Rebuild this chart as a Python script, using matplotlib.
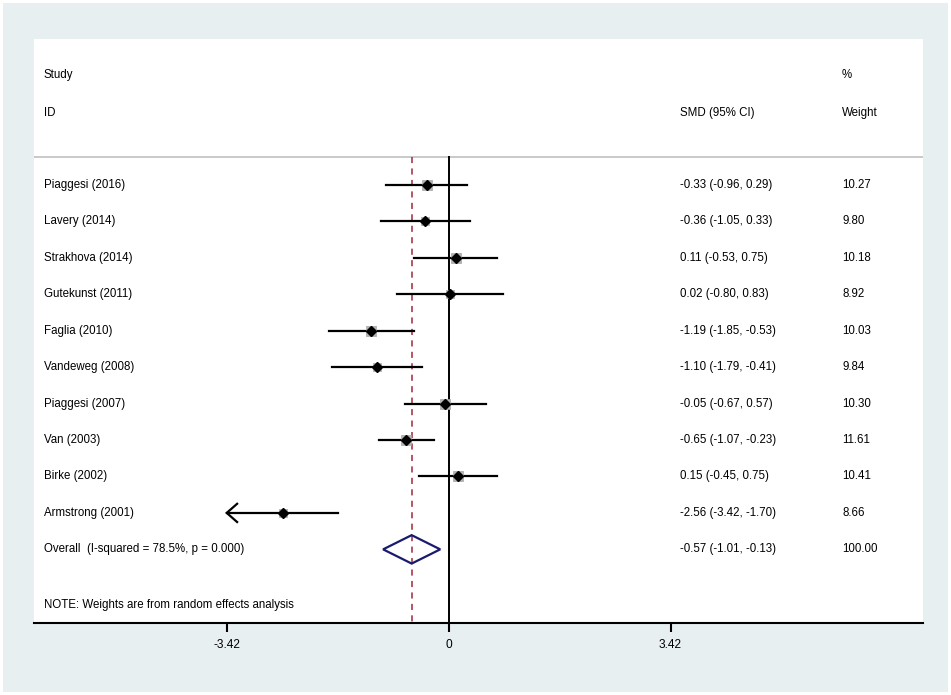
import matplotlib
matplotlib.use("Agg")
import matplotlib.pyplot as plt
from matplotlib.patches import Rectangle, Polygon

plt.rcParams["font.family"] = ["Liberation Sans", "DejaVu Sans"]

# study data (SMD, 95% CI, weight %)
studies = ["Piaggesi (2016)", "Lavery (2014)", "Strakhova (2014)", "Gutekunst (2011)",
           "Faglia (2010)", "Vandeweg (2008)", "Piaggesi (2007)", "Van (2003)",
           "Birke (2002)", "Armstrong (2001)"]
smd = [-0.33, -0.36, 0.11, 0.02, -1.19, -1.10, -0.05, -0.65, 0.15, -2.56]
ci_low = [-0.96, -1.05, -0.53, -0.80, -1.85, -1.79, -0.67, -1.07, -0.45, -3.42]
ci_high = [0.29, 0.33, 0.75, 0.83, -0.53, -0.41, 0.57, -0.23, 0.75, -1.70]
weights = [10.27, 9.80, 10.18, 8.92, 10.03, 9.84, 10.30, 11.61, 10.41, 8.66]

overall_label = "Overall  (I-squared = 78.5%, p = 0.000)"
overall_smd, overall_low, overall_high, overall_weight = -0.57, -1.01, -0.13, 100.00
xticks = [-3.42, 0, 3.42]
x_clip = -3.42

W, H = 951, 695
FS = 8.3
fig = plt.figure(figsize=(W / 100, H / 100), dpi=100, facecolor="white")
fig.add_artist(Rectangle((3 / W, 3 / H), 945 / W, 689 / H, transform=fig.transFigure,
                         facecolor="#e8eff1", edgecolor="none", zorder=-10))

ax = fig.add_axes([34 / W, 1 - 623 / H, 889 / W, 584 / H])
ax.set_facecolor("white")
ax.set_xlim(-6.39, 7.31)
ax.set_ylim(12.02, -4.0)
for s in ["top", "left", "right"]:
    ax.spines[s].set_visible(False)
ax.spines["bottom"].set_linewidth(1.5)
ax.set_yticks([])
ax.set_xticks(xticks)
ax.set_xticklabels(["-3.42", "0", "3.42"], fontsize=8.6)
ax.tick_params(axis="x", length=6.5, width=1.5, pad=5)

top_line = -0.76
ax.axhline(top_line, color="#c0c0c0", lw=1.2)
ax.plot([0, 0], [top_line, 12.02], color="black", lw=1.4, zorder=3)
ax.plot([overall_smd, overall_smd], [top_line, 12.02], color="#a0283a", lw=1.1,
        dashes=(4, 3.5), zorder=3)

tr = ax.get_yaxis_transform()
for i in range(len(studies)):
    lo = max(ci_low[i], x_clip)
    ax.plot([lo, ci_high[i]], [i, i], color="black", lw=1.6, zorder=4)
    if ci_low[i] <= x_clip:
        ax.plot([lo + 0.16, lo, lo + 0.16], [i - 0.25, i, i + 0.25],
                color="black", lw=1.6, zorder=4, solid_joinstyle="miter")
    ax.scatter([smd[i]], [i], s=weights[i] * 4.2, marker="s", color="#b3b3b3",
               edgecolor="#a5a5a5", linewidth=0.5, zorder=5)
    ax.plot([smd[i]], [i], marker="D", ms=5.2, color="black", zorder=6)

    ax.text(0.0112, i, studies[i], transform=tr, fontsize=FS, va="center")
    ax.text(0.727, i, f"{smd[i]:.2f} ({ci_low[i]:.2f}, {ci_high[i]:.2f})",
            transform=tr, fontsize=FS, va="center")
    ax.text(0.909, i, f"{weights[i]:.2f}", transform=tr, fontsize=FS, va="center")

r = len(studies)
ax.add_patch(Polygon([(overall_low, r), (overall_smd, r - 0.39), (overall_high, r),
                      (overall_smd, r + 0.39)], closed=True, fill=False,
                     edgecolor="#1a1a6e", lw=1.6, zorder=6))
ax.text(0.0112, r, overall_label, transform=tr, fontsize=FS, va="center")
ax.text(0.727, r, f"{overall_smd:.2f} ({overall_low:.2f}, {overall_high:.2f})",
        transform=tr, fontsize=FS, va="center")
ax.text(0.909, r, f"{overall_weight:.2f}", transform=tr, fontsize=FS, va="center")

# header and note
ax.text(0.0112, -3, "Study", transform=tr, fontsize=FS, va="center")
ax.text(0.0112, -1.98, "ID", transform=tr, fontsize=FS, va="center")
ax.text(0.727, -1.98, "SMD (95% CI)", transform=tr, fontsize=FS, va="center")
ax.text(0.909, -3, "%", transform=tr, fontsize=FS, va="center")
ax.text(0.909, -1.98, "Weight", transform=tr, fontsize=FS, va="center")
ax.text(0.0112, 11.53, "NOTE: Weights are from random effects analysis",
        transform=tr, fontsize=FS, va="center")

fig.savefig("out.png", dpi=100, facecolor="white")
